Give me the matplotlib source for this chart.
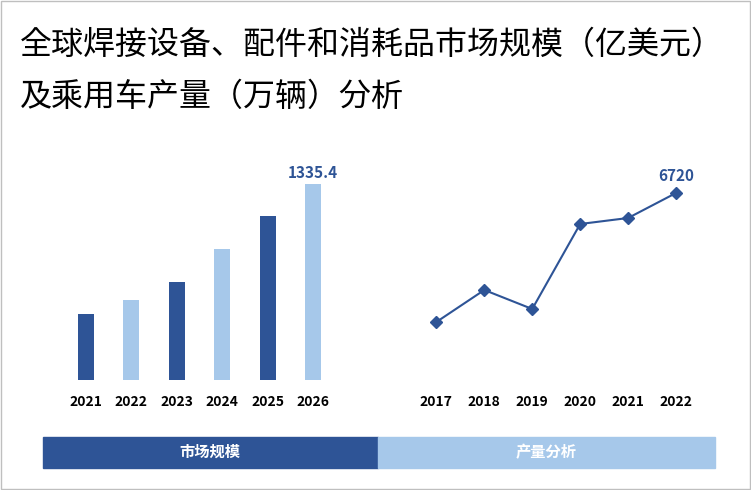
import matplotlib.pyplot as plt
from matplotlib.patches import Rectangle
from matplotlib import font_manager

# pick whichever CJK family matplotlib can actually find
cjk = sorted(set(f.name for f in font_manager.fontManager.ttflist if 'CJK' in f.name))
plt.rcParams['font.family'] = cjk[:1] + ['DejaVu Sans']

bar_years = ['2021', '2022', '2023', '2024', '2025', '2026']
market_size = [450, 545, 668, 893, 1117, 1335.4]
bar_colors = ['#2e5496', '#a6c8ea'] * 3

line_years = ['2017', '2018', '2019', '2020', '2021', '2022']
car_output = [5430, 5750, 5560, 6410, 6470, 6720]

W, H = 751, 490
fig = plt.figure(figsize=(W / 100, H / 100), dpi=100)

# border
fig.patches.append(Rectangle((1 / W, 1 / H), 1 - 2 / W, 1 - 2 / H, transform=fig.transFigure,
                             fill=False, edgecolor='#bfbfbf', linewidth=1))

fig.text(20 / W, 1 - 45 / H, '全球焊接设备、配件和消耗品市场规模（亿美元）', fontsize=23, va='center')
fig.text(20 / W, 1 - 97 / H, '及乘用车产量（万辆）分析', fontsize=23, va='center')

# bar chart
ax1 = fig.add_axes([55 / W, 1 - 380 / H, 290 / W, 220 / H])
ax1.bar(bar_years, market_size, color=bar_colors, width=0.35)
ax1.set_ylim(0, 1335.4 * 220 / 196)
ax1.set_xlim(-0.68, 5.7)
ax1.text(5, market_size[-1] + 20, f'{market_size[-1]}', ha='center', va='bottom',
         color='#2e5496', fontsize=11, fontweight='bold')
ax1.tick_params(left=False, labelleft=False, bottom=False, labelsize=10, pad=7)
for lab in ax1.get_xticklabels():
    lab.set_fontweight('bold')
for s in ax1.spines.values():
    s.set_visible(False)

# line chart
ax2 = fig.add_axes([410 / W, 1 - 380 / H, 290 / W, 220 / H])
ax2.plot(line_years, car_output, color='#2e5496', linewidth=1.5, marker='D', markersize=6)
ax2.set_ylim(6720 - 1870, 6720 + 330)
ax2.set_xlim(-0.55, 5.5)
ax2.text(5, car_output[-1] + 90, f'{car_output[-1]}', ha='center', va='bottom',
         color='#2e5496', fontsize=11, fontweight='bold')
ax2.tick_params(left=False, labelleft=False, bottom=False, labelsize=10, pad=7)
for lab in ax2.get_xticklabels():
    lab.set_fontweight('bold')
for s in ax2.spines.values():
    s.set_visible(False)

# bottom banner
fig.patches.append(Rectangle((43 / W, 1 - 468 / H), 335 / W, 31 / H, transform=fig.transFigure,
                             color='#2e5496'))
fig.patches.append(Rectangle((378 / W, 1 - 468 / H), 337 / W, 31 / H, transform=fig.transFigure,
                             color='#a6c8ea'))
fig.text(210 / W, 1 - 452 / H, '市场规模', color='white', ha='center', va='center',
         fontsize=11, fontweight='bold')
fig.text(546 / W, 1 - 452 / H, '产量分析', color='white', ha='center', va='center',
         fontsize=11, fontweight='bold')

fig.savefig('out.png', dpi=100)
